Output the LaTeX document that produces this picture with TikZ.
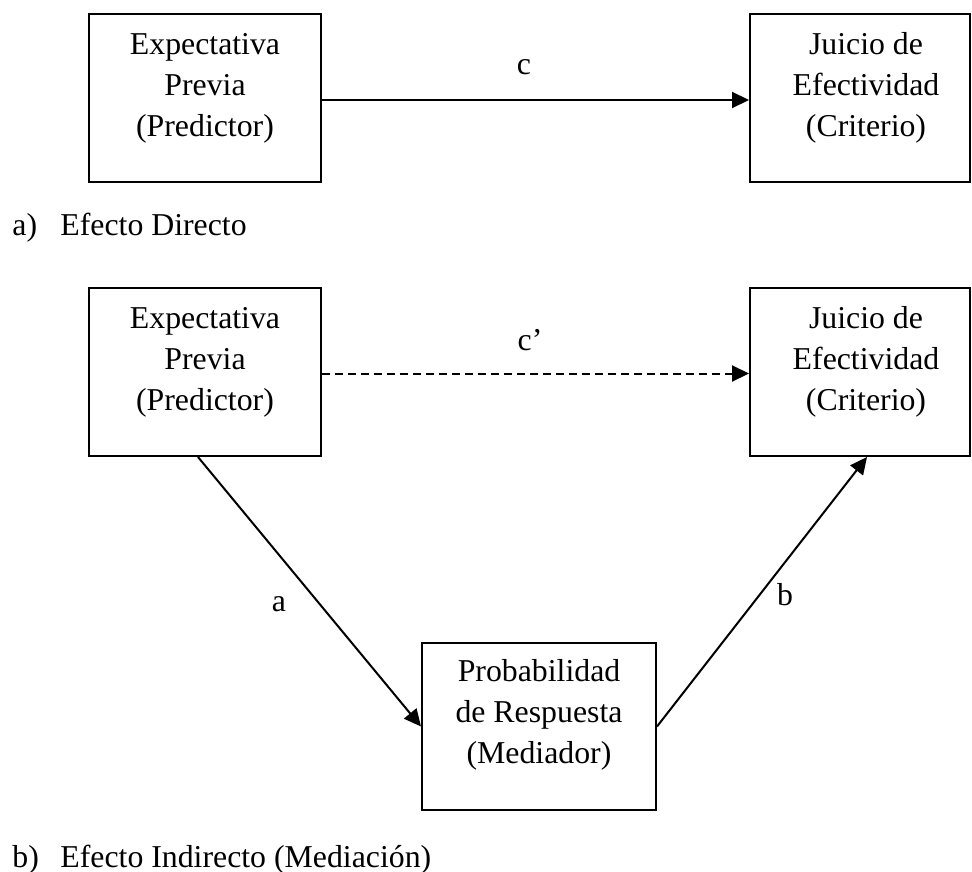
\documentclass[tikz,border=0pt]{standalone}
\usepackage{fontspec}
\setmainfont{Liberation Serif}
\usetikzlibrary{arrows.meta}
\begin{document}
\begin{tikzpicture}[x=0.5pt,y=-0.5pt,
  box/.style={draw=black,line width=1pt,rectangle,inner sep=0pt},
  txt/.style={align=center,inner sep=0pt,font=\fontsize{15.9}{20.5}\selectfont},
  lbl/.style={inner sep=0pt,anchor=base,font=\fontsize{15.9}{20.5}\selectfont},
  captxt/.style={inner sep=0pt,anchor=base west,font=\fontsize{15.9}{20.5}\selectfont},
  conn/.style={line width=1pt,-{Triangle[length=8.5pt,width=8pt]}}]
\useasboundingbox (0,0) rectangle (972,871);
% top row
\node[box,minimum width=116pt,minimum height=84pt] (p1) at (205,98) {};
\node[txt] (p1t) at (205,88) {Expectativa\\Previa\\(Predictor)};
\node[box,minimum width=110pt,minimum height=84pt] (j1) at (860,98) {};
\node[txt] (j1t) at (866,88) {Juicio de\\Efectividad\\(Criterio)};
\draw[conn] ([yshift=-1pt]p1.east) -- ([yshift=-1pt]j1.west);
\node[lbl] (c) at (524,75) {c};
\node[captxt] (capa) at (12,235) {a)};
\node[captxt] (capat) at (60,235) {Efecto Directo};
% bottom
\node[box,minimum width=116pt,minimum height=84pt] (p2) at (205,372) {};
\node[txt] (p2t) at (205,362) {Expectativa\\Previa\\(Predictor)};
\node[box,minimum width=110pt,minimum height=84pt] (j2) at (860,372) {};
\node[txt] (j2t) at (866,362) {Juicio de\\Efectividad\\(Criterio)};
\node[box,minimum width=117pt,minimum height=83.5pt] (m) at (539,726.5) {};
\node[txt] (mt) at (539,715) {Probabilidad\\de Respuesta\\(Mediador)};
\draw[conn,dash pattern=on 4pt off 2.5pt] ([yshift=-0.75pt]p2.east) -- ([yshift=-0.75pt]j2.west);
\node[lbl] (cp) at (530,350) {c’};
\draw[conn] ([xshift=-3.5pt]p2.south) -- (m.west);
\draw[conn] (m.east) -- ([xshift=3.5pt]j2.south);
\node[lbl] (la) at (279,611) {a};
\node[lbl] (lb) at (785,605) {b};
\node[captxt] (capb) at (12,867) {b)};
\node[captxt] (capbt) at (60,867) {Efecto Indirecto (Mediación)};
\end{tikzpicture}
\end{document}
